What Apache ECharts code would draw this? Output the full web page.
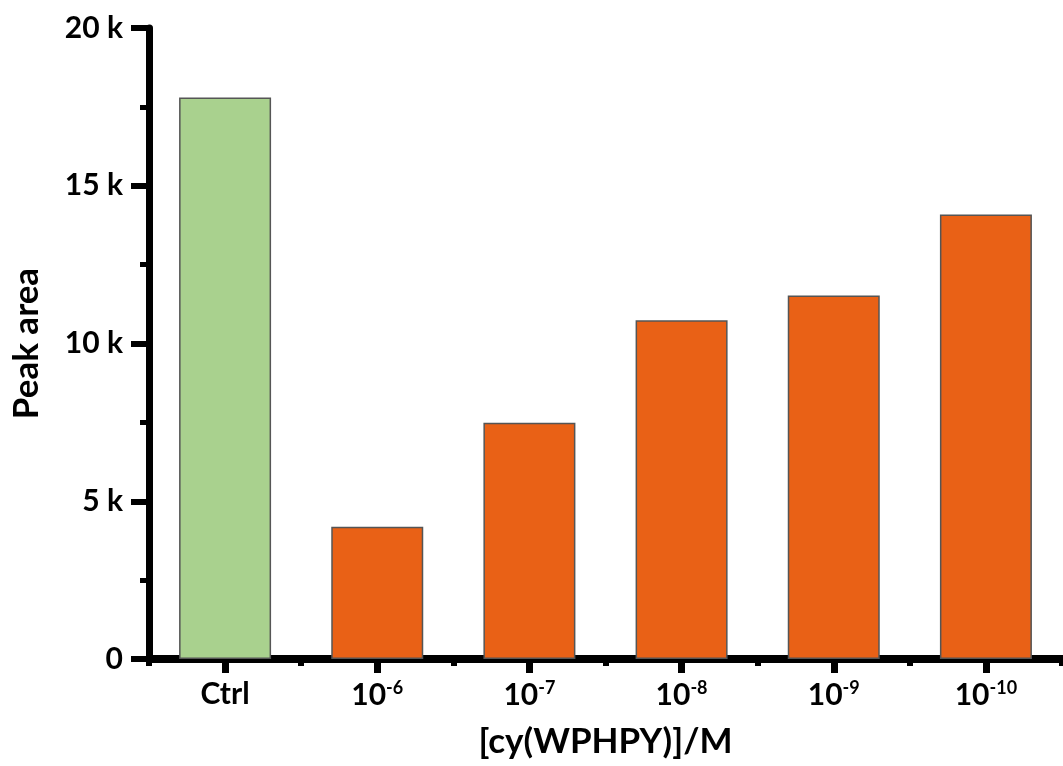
<!DOCTYPE html>
<html>
<head>
<meta charset="utf-8">
<script src="https://cdn.jsdelivr.net/npm/echarts@6/dist/echarts.min.js"></script>
<style>
  html, body { margin: 0; padding: 0; background: #fff; }
  #chart { width: 1063px; height: 766px; }
</style>
</head>
<body>
<div id="chart"></div>
<script>
// Concentrations of cy(WPHPY); the exponent of each power of ten is shown as a superscript
const categories = ['Ctrl', '-6', '-7', '-8', '-9', '-10'];
const peakArea = [17800, 4190, 7490, 10740, 11520, 14090];
const yTicks = [0, 5000, 10000, 15000, 20000];

const FONT = 'Lato';
const GREEN = '#a9d18e';
const ORANGE = '#e96116';

const chart = echarts.init(document.getElementById('chart'), null, { renderer: 'canvas' });

const labelStyle = {
  fontFamily: FONT, fontWeight: 'bold', fontSize: 30, color: '#000'
};

chart.setOption({
  animation: false,
  backgroundColor: '#fff',
  grid: { left: 149, right: 1, top: 28, bottom: 107, containLabel: false },
  xAxis: [
    {
      type: 'category',
      data: categories,
      boundaryGap: true,
      name: '[cy(WPHPY)]/M',
      nameLocation: 'middle',
      nameGap: 65,
      nameTextStyle: { fontFamily: FONT, fontWeight: 'bold', fontSize: 35, color: '#000' },
      axisLine: { show: true, lineStyle: { color: '#000', width: 8 } },
      axisTick: { show: true, alignWithLabel: true, length: 14, lineStyle: { color: '#000', width: 7 } },
      axisLabel: {
        interval: 0,
        margin: 20,
        ...labelStyle,
        formatter: function (v) {
          return v === 'Ctrl' ? '{b|Ctrl}' : '{b|10}{sup|' + v + '}';
        },
        rich: {
          b: { fontFamily: FONT, fontWeight: 'bold', fontSize: 30, color: '#000', verticalAlign: 'bottom' },
          sup: { fontFamily: FONT, fontWeight: 'bold', fontSize: 18, color: '#000', verticalAlign: 'bottom', padding: [0, 0, 13, 0] }
        }
      },
      splitLine: { show: false }
    },
    {
      // short stubs on the category boundaries
      type: 'category',
      data: categories,
      position: 'bottom',
      boundaryGap: true,
      axisLine: { show: false },
      axisTick: { show: true, alignWithLabel: false, interval: 0, length: 7, lineStyle: { color: '#000', width: 6 } },
      axisLabel: { show: false },
      splitLine: { show: false }
    }
  ],
  yAxis: {
    type: 'value',
    min: yTicks[0],
    max: yTicks[yTicks.length - 1],
    interval: 5000,
    name: 'Peak area',
    nameLocation: 'middle',
    nameGap: 105,
    nameTextStyle: { fontFamily: FONT, fontWeight: 'bold', fontSize: 35, color: '#000' },
    axisLine: { show: true, lineStyle: { color: '#000', width: 7 } },
    axisTick: { show: true, length: 18, lineStyle: { color: '#000', width: 6 } },
    minorTick: { show: true, splitNumber: 2, length: 9, lineStyle: { color: '#000', width: 5 } },
    axisLabel: {
      margin: 26,
      ...labelStyle,
      formatter: function (v) { return v === 0 ? '0' : (v / 1000) + ' k'; }
    },
    splitLine: { show: false }
  },
  series: [{
    type: 'bar',
    data: peakArea.map(function (v, i) {
      return { value: v, itemStyle: { color: i === 0 ? GREEN : ORANGE } };
    }),
    barWidth: 92,
    itemStyle: { borderColor: '#555', borderWidth: 1.5 }
  }]
});
</script>
</body>
</html>
